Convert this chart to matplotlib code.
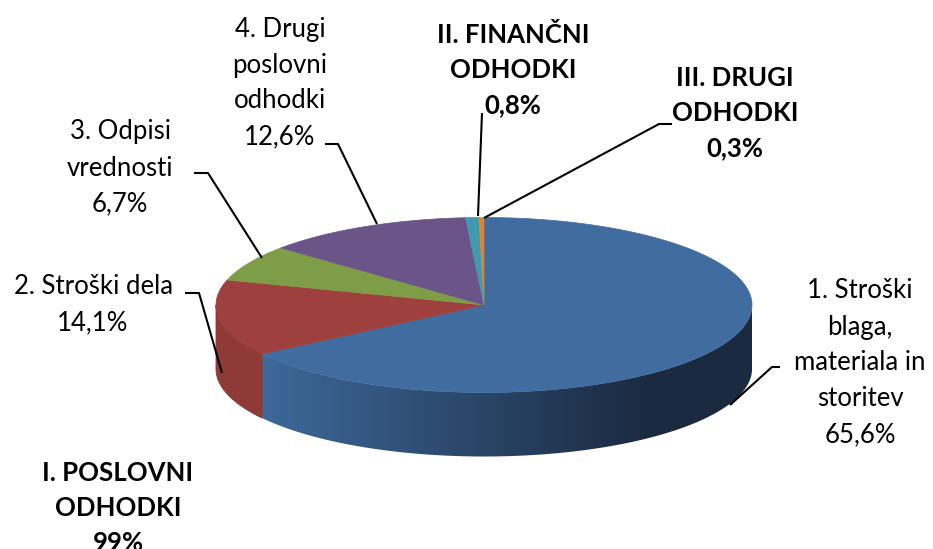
import numpy as np
import matplotlib
matplotlib.use("Agg")
import matplotlib.pyplot as plt
from matplotlib.patches import Polygon
from matplotlib.colors import to_rgb

# ---- data ----
categories = ["1. Stroški\nblaga,\nmateriala in\nstoritev",
              "2. Stroški dela",
              "3. Odpisi\nvrednosti",
              "4. Drugi\nposlovni\nodhodki",
              "II. FINANČNI\nODHODKI",
              "III. DRUGI\nODHODKI"]
values = [65.6, 14.1, 6.7, 12.6, 0.8, 0.3]
bold = [False, False, False, False, True, True]
group_label = "I. POSLOVNI\nODHODKI"
group_members = [0, 1, 2, 3]

top_colors = ["#416C9F", "#9E413E", "#7F9D48", "#6B5588", "#3F9AB0", "#E0822F"]
side_colors = ["#3E6899", "#8F3A37", "#728D40", "#5F4C7A", "#38899D", "#C8732A"]

# ---- geometry (pixel space) ----
W, H = 933, 549
cx, cy, A, B, D = 484, 305, 268, 87.5, 64

fig = plt.figure(figsize=(W / 100, H / 100), dpi=100)
ax = fig.add_axes([0, 0, 1, 1])
ax.set_xlim(0, W)
ax.set_ylim(H, 0)
ax.axis("off")


def pt(theta_deg, dy=0.0):
    t = np.radians(theta_deg)
    return cx + A * np.cos(t), cy - B * np.sin(t) + dy


total = float(sum(values))
angles = []
start = 90.0
for v in values:
    span = 360.0 * v / total
    angles.append((start - span, start))
    start -= span

# side walls (front half: theta in [-180, 0])
c_left = np.array(to_rgb("#3E6A9C"))
c_right = np.array(to_rgb("#1B2A40"))
for i, (a0, a1) in enumerate(angles):
    for shift in (0, -360, 360):
        lo, hi = max(a0 + shift, -180), min(a1 + shift, 0)
        if hi <= lo:
            continue
        ts = np.linspace(lo, hi, 200)
        upper = [pt(t) for t in ts]
        lower = [pt(t, D) for t in ts[::-1]]
        poly = upper + lower
        if i == 0:
            xs_ = np.array([p[0] for p in poly])
            x0, x1 = xs_.min() - 1, xs_.max() + 1
            xx = np.linspace(x0, x1, 600)
            f = np.clip((xx - 253) / (650 - 253), 0, 1)[:, None]
            grad = (c_left * (1 - f) + c_right * f)[None, :, :]
            patch = Polygon(poly, closed=True, facecolor="none", edgecolor="none")
            ax.add_patch(patch)
            im = ax.imshow(grad, extent=(x0, x1, cy + B + D + 2, cy - B - 2),
                           aspect="auto", interpolation="bilinear", zorder=1)
            im.set_clip_path(patch)
        else:
            ax.add_patch(Polygon(poly, closed=True, facecolor=side_colors[i],
                                 edgecolor=side_colors[i], lw=0.6, zorder=1))
ax.set_xlim(0, W)
ax.set_ylim(H, 0)

# top faces
for i, (a0, a1) in enumerate(angles):
    ts = np.linspace(a0, a1, max(int((a1 - a0) / 0.5), 2) + 1)
    pts = [(cx, cy)] + [pt(t) for t in ts]
    ax.add_patch(Polygon(pts, closed=True, facecolor=top_colors[i],
                         edgecolor=top_colors[i], lw=0.5, zorder=2))


def fmt(v):
    return f"{v:.1f}".replace(".", ",") + "%"


label_pos = [(860, 363), (93, 305), (120, 168), (280, 83), (513, 70), (735, 113)]
leaders = [[(730, 405), (772, 367), (780, 367)],
           [(185, 293), (199, 293), (222, 373)],
           [(194, 173), (208, 173), (262, 258)],
           [(325, 144), (338, 144), (377, 224)],
           [(482, 113), (478, 216)],
           [(672, 124), (659, 124), (484, 218)]]

fam = ["Lato", "DejaVu Sans"]
FS = 18.5
LS = 1.55
for i, name in enumerate(categories):
    x, y = label_pos[i]
    ax.text(x, y, name + "\n" + fmt(values[i]), ha="center", va="center",
            fontsize=FS, family=fam, fontweight="bold" if bold[i] else "normal",
            linespacing=LS, color="black", zorder=4)
    xs, ys = zip(*leaders[i])
    ax.plot(xs, ys, color="black", lw=1.5, solid_capstyle="butt", zorder=3)

gsum = sum(values[j] for j in group_members)
ax.text(118, 508, group_label + "\n" + f"{gsum:.0f}%", ha="center", va="center",
        fontsize=FS, family=fam, fontweight="bold", linespacing=LS, color="black",
        zorder=4)

fig.savefig("out.png", dpi=100)
